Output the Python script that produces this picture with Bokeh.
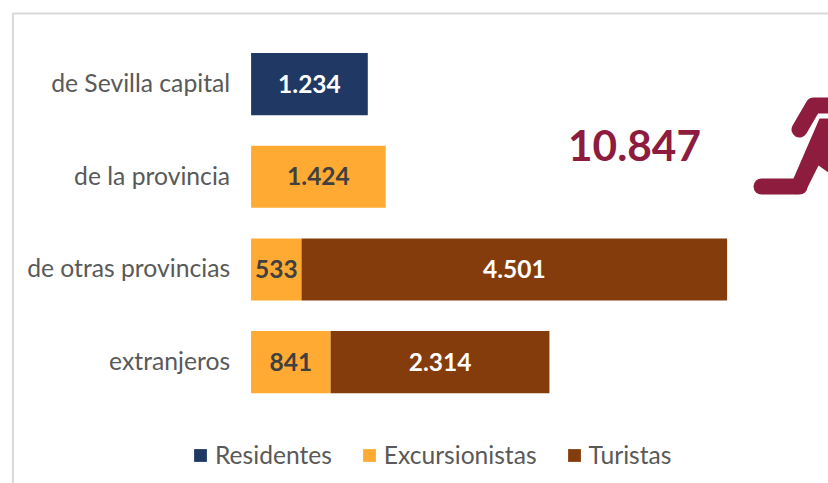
from bokeh.plotting import figure
from bokeh.models import ColumnDataSource, Range1d, Legend, LegendItem
from bokeh.core.properties import value
from bokeh.embed import file_html
from bokeh.resources import INLINE

categories = ["de Sevilla capital", "de la provincia", "de otras provincias", "extranjeros"]
residentes = [1234, 0, 0, 0]
excursionistas = [0, 1424, 533, 841]
turistas = [0, 0, 4501, 2314]
series_names = ["Residentes", "Excursionistas", "Turistas"]
series_colors = ["#1F3864", "#FFAB33", "#843C0C"]
label_colors = ["#FFFFFF", "#404040", "#FFFFFF"]
total_label = "10.847"
FONT = "Lato"
MAROON = "#8E1C3E"
GREY = "#595959"

# runner icon, decorative, in page pixels
icon_leg_x = [761, 799]
icon_leg_y = [186, 186]
icon_arm_x = [799, 813, 836]
icon_arm_y = [129, 105, 105]
icon_body_x = [793, 819, 828, 828, 818, 805, 795]
icon_body_y = [178, 118, 118, 172, 165, 191, 194]
# chart frame, in page pixels
frame_x = [12.5, 12.5, 830]
frame_y = [490, 13, 13]

W, H = 828, 483
X0, PX_PER_UNIT = 250.6, 0.09456
Y0, PX_PER_ROW = 83.6, 92.67

pos = list(range(len(categories)))
src = ColumnDataSource(dict(pos=pos, Residentes=residentes,
                            Excursionistas=excursionistas, Turistas=turistas))

p = figure(width=W, height=H, output_backend="svg", toolbar_location=None,
           x_range=Range1d(-X0 / PX_PER_UNIT, (W - X0) / PX_PER_UNIT),
           y_range=Range1d((H - Y0) / PX_PER_ROW, -Y0 / PX_PER_ROW),
           min_border=0, background_fill_color="white", border_fill_color="white",
           outline_line_color=None, x_axis_location=None, y_axis_location=None)
p.extra_x_ranges = {"px": Range1d(0, W)}
p.extra_y_ranges = {"px": Range1d(H, 0)}
p.grid.visible = False

# frame
p.line(frame_x, frame_y, line_color="#D9D9D9", line_width=2, x_range_name="px", y_range_name="px")

bars = p.hbar_stack(series_names, y="pos", height=0.67, source=src, color=series_colors, line_width=0)

# category labels
p.text([-21 / PX_PER_UNIT] * len(pos), pos, text=categories, text_color=GREY, text_font=value(FONT),
       text_font_size="24.7px", text_align="right", text_baseline="middle", y_offset=-1.5)

# data labels
lx, ly, lt, lc = [], [], [], []
for i in pos:
    base = 0
    for vals, col in zip([residentes, excursionistas, turistas], label_colors):
        v = vals[i]
        if v:
            lx.append(base + v / 2)
            ly.append(i)
            lt.append(f"{v:,}".replace(",", "."))
            lc.append(col)
        base += v
p.text(lx, ly, text=lt, text_color=lc, text_font=value(FONT), text_font_style="bold",
       text_font_size="24.5px", text_align="center", text_baseline="middle", y_offset=-0.5)

# total
p.text([634], [144.5], text=[total_label], text_color=MAROON, text_font=value(FONT),
       text_font_style="bold", text_font_size="42.4px", text_align="center", text_baseline="middle",
       x_range_name="px", y_range_name="px")

# runner icon
p.patch(icon_body_x, icon_body_y, color=MAROON, line_width=0, x_range_name="px", y_range_name="px")
p.line(icon_leg_x, icon_leg_y, line_color=MAROON, line_width=16, line_cap="round", line_join="round",
       x_range_name="px", y_range_name="px")
p.line(icon_arm_x, icon_arm_y, line_color=MAROON, line_width=16, line_cap="round", line_join="round",
       x_range_name="px", y_range_name="px")

legend = Legend(items=[LegendItem(label=n, renderers=[b]) for n, b in zip(series_names, bars)],
                orientation="horizontal", location=(192, 14),
                glyph_width=16, glyph_height=16, spacing=29, label_standoff=7, padding=0, margin=0,
                border_line_color=None, background_fill_alpha=0,
                label_text_font=FONT, label_text_font_size="24.6px", label_text_color=GREY)
p.add_layout(legend, "center")

open("out.html", "w").write(file_html(p, INLINE))
